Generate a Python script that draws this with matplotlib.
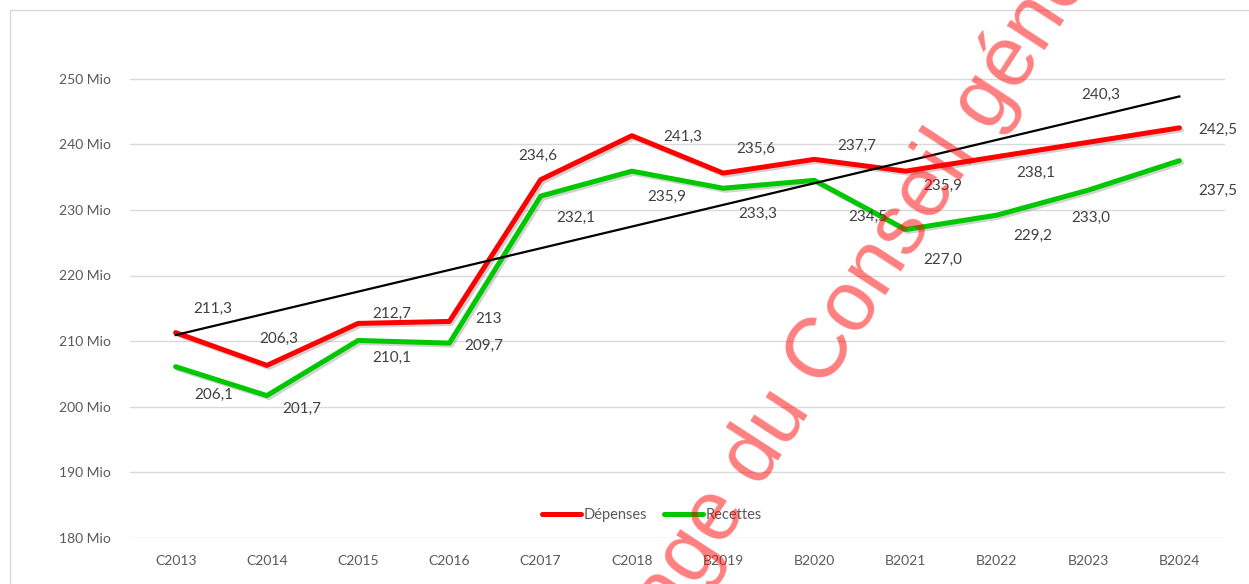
import numpy as np
import matplotlib.pyplot as plt
import matplotlib.patheffects as pe
from matplotlib.patches import Rectangle

# data (millions)
years = ['C2013', 'C2014', 'C2015', 'C2016', 'C2017', 'C2018',
         'B2019', 'B2020', 'B2021', 'B2022', 'B2023', 'B2024']
depenses = [211.3, 206.3, 212.7, 213.0, 234.6, 241.3,
            235.6, 237.7, 235.9, 238.1, 240.3, 242.5]
recettes = [206.1, 201.7, 210.1, 209.7, 232.1, 235.9,
            233.3, 234.5, 227.0, 229.2, 233.0, 237.5]
dep_labels = ['211,3', '206,3', '212,7', '213', '234,6', '241,3',
              '235,6', '237,7', '235,9', '238,1', '240,3', '242,5']
rec_labels = ['206,1', '201,7', '210,1', '209,7', '232,1', '235,9',
              '233,3', '234,5', '227,0', '229,2', '233,0', '237,5']
y_ticks = [180, 190, 200, 210, 220, 230, 240, 250]

# label offsets in pixels (dx, dy up)
dep_off = [(37, 24), (12, 27), (34, 10), (39, 2), (-3, 24), (51, -1),
           (33, 24), (42, 13), (37, -15), (39, -16), (13, 47), (38, -2)]
rec_off = [(38, -28), (35, -13), (34, -17), (34, -3), (35, -22), (35, -26),
           (35, -26), (53, -37), (37, -30), (36, -21), (3, -28), (38, -30)]

plt.rcParams['font.family'] = ['Lato', 'DejaVu Sans']

W, H = 1249, 584
fig = plt.figure(figsize=(W / 100, H / 100), dpi=100)
ax = fig.add_axes([130 / W, 46 / H, 1095 / W, 525 / H])

# chart frame
fig.patches.append(Rectangle((10 / W, -0.1), 1.2, 574 / H + 0.1, transform=fig.transFigure,
                             fill=False, edgecolor='#D9D9D9', lw=1, zorder=0))

x = np.arange(len(years))
shadow = [pe.SimpleLineShadow(offset=(1.5, -1.5), shadow_color='#808080', alpha=0.35), pe.Normal()]

ax.plot(x, depenses, color='#FF0000', lw=3.6, solid_capstyle='round', solid_joinstyle='round',
        label='Dépenses', path_effects=shadow, zorder=3)
ax.plot(x, recettes, color='#00C800', lw=3.6, solid_capstyle='round', solid_joinstyle='round',
        label='Recettes', path_effects=shadow, zorder=3)

# linear trend of Dépenses
coef = np.polyfit(x, depenses, 1)
ax.plot(x, np.polyval(coef, x), color='black', lw=1.6, zorder=4)

for xi, yi, t, o in zip(x, depenses, dep_labels, dep_off):
    ax.annotate(t, (xi, yi), xytext=o, textcoords='offset pixels', ha='center', va='center',
                fontsize=11, color='#404040', zorder=5)
for xi, yi, t, o in zip(x, recettes, rec_labels, rec_off):
    ax.annotate(t, (xi, yi), xytext=o, textcoords='offset pixels', ha='center', va='center',
                fontsize=11, color='#404040', zorder=5)

ax.set_xlim(-0.5, len(years) - 0.5)
ax.set_ylim(180, 260)
ax.set_yticks(y_ticks)
ax.set_yticklabels([f'{v} Mio' for v in y_ticks])
ax.set_xticks(x)
ax.set_xticklabels(years)
ax.tick_params(axis='both', length=0, labelsize=10, labelcolor='#595959')
ax.tick_params(axis='y', pad=14)
ax.tick_params(axis='x', pad=12)
for v in y_ticks:
    ax.axhline(v, color='#D9D9D9', lw=1, zorder=1)
for s in ax.spines.values():
    s.set_visible(False)

leg = ax.legend(loc='center', bbox_to_anchor=(652 / W, 1 - 515 / H), bbox_transform=fig.transFigure,
                ncol=2, frameon=False, fontsize=10.5, handlelength=2.7, handletextpad=0.2,
                columnspacing=1.1, labelcolor='#595959')
for h in leg.get_lines():
    h.set_path_effects([])

# watermark
fig.text(879 / W, 1 - 305 / H, 'Usage du Conseil général', rotation=57, rotation_mode='anchor',
         ha='center', va='baseline', fontsize=61, color='#FF0000', alpha=0.5,
         family='Liberation Sans', zorder=10)

fig.savefig('out.png', dpi=100)
